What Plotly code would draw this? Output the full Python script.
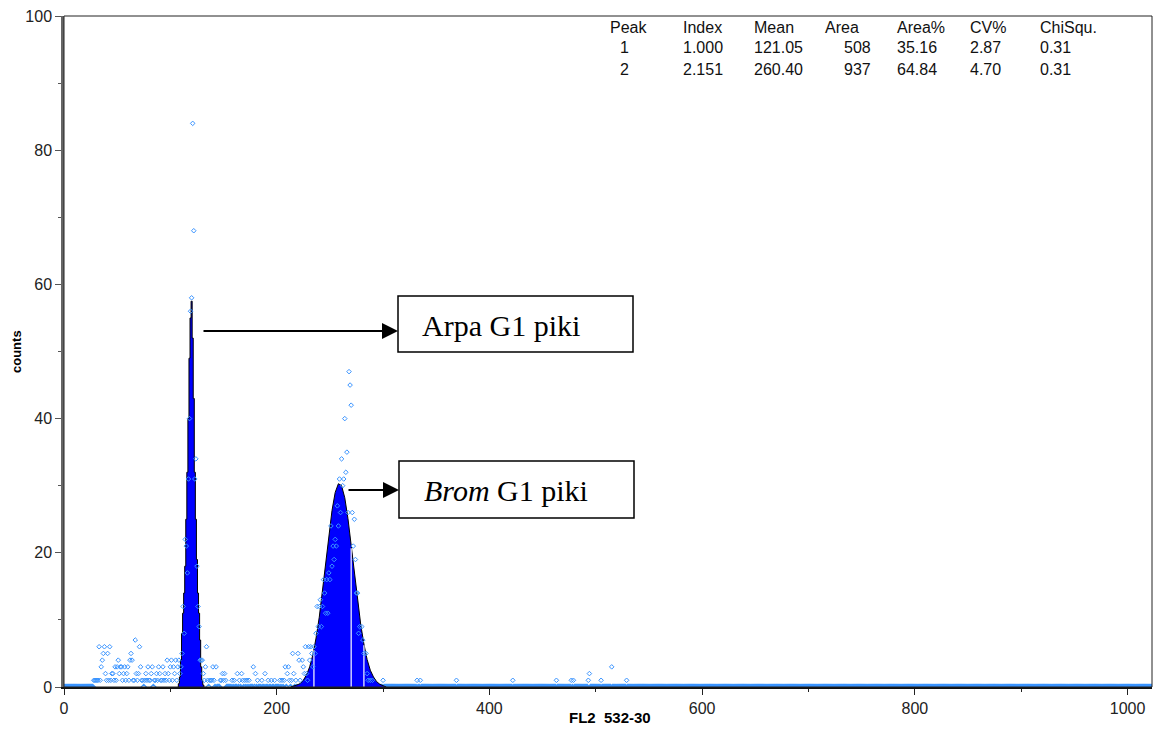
import numpy as np
import plotly.graph_objects as go

N_CHANNELS = 1024

# ---- fitted peak curves (channel -> counts) ----
fit1_ch = list(range(107, 133))
fit1_val = [0, 0.5, 1.5, 4, 8, 11, 14, 18, 25, 32, 40, 49, 55, 57.5, 52, 43, 32,
            25, 19, 14, 11, 7, 3, 1, 0.3, 0]

fit2_ch = [213, 216, 219, 222, 225, 228, 231, 234, 237, 240, 243, 246, 249, 252,
           255, 258, 261, 264, 267, 270, 273, 276, 279, 282, 285, 288, 291, 294,
           297, 300, 303]
fit2_val = [0, 0.1, 0.3, 0.5, 1.0, 1.8, 3.0, 4.8, 7.3, 10.4, 14.3, 18.4, 22.6,
            26.3, 29.0, 30.3, 30.0, 28.2, 25.1, 21.3, 17.0, 12.9, 9.3, 6.4, 4.1,
            2.5, 1.5, 0.8, 0.4, 0.2, 0]

# region markers inside peak 2
marker_ch = [235, 270, 282]

# ---- raw histogram counts (non-zero channels) ----
low_ch = [28, 29, 30, 31, 32, 33, 34, 35, 36, 37, 38, 39, 40, 41, 42, 43, 44, 45,
          46, 47, 48, 49, 50, 51, 52, 53, 54, 55, 56, 57, 58, 59, 60, 61, 62, 63,
          64, 65, 66, 67, 68, 69, 70, 71, 72, 73, 74, 76, 77, 78, 79, 80, 81, 82,
          83, 85, 86, 87, 88, 89, 90, 91, 92, 93, 94, 95, 96, 97, 98, 99, 100,
          101, 102, 103, 104, 105, 106, 107]
low_cnt = [1, 1, 1, 1, 1, 6, 1, 3, 4, 5, 6, 2, 1, 5, 1, 6, 1, 2,
           2, 1, 3, 1, 3, 4, 2, 3, 3, 1, 2, 3, 1, 2, 3, 1, 4, 5,
           4, 1, 1, 7, 2, 1, 2, 6, 3, 1, 1, 1, 2, 1, 3, 1, 1, 2,
           3, 1, 1, 2, 1, 3, 2, 1, 1, 3, 1, 2, 1, 4, 2, 1, 3,
           4, 1, 3, 2, 4, 1, 3]

p1_ch = [108, 109, 110, 111, 112, 113, 114, 115, 116, 117, 118, 119, 120, 121,
         122, 123, 124, 125, 126, 127, 128, 129, 130, 131, 132, 133, 134, 135,
         137, 138, 139, 140, 141, 143, 147, 148, 149, 150, 151, 152, 158, 160,
         163, 165, 167, 168, 170, 172, 174, 178, 180, 182, 186, 189, 192, 195,
         198]
p1_cnt = [4, 2, 3, 5, 12, 8, 22, 21, 17, 31, 40, 56, 58, 84,
          68, 31, 34, 18, 12, 9, 4, 4, 4, 2, 1, 3, 6, 1,
          1, 1, 1, 3, 1, 3, 1, 1, 2, 1, 2, 1, 1, 1,
          2, 1, 2, 1, 1, 1, 1, 3, 2, 1, 1, 2, 1, 1,
          1]

p2_ch = [203, 205, 207, 208, 210, 211, 212, 214, 215, 216, 218, 220, 221, 222,
         224, 225, 226, 227, 228, 229, 230, 231, 232, 233, 234, 235, 236, 237,
         238, 239, 240, 241, 242, 243, 244, 245, 246, 247, 248, 249, 250, 251,
         252, 253, 254, 255, 256, 257, 258, 259, 260, 261, 262, 263, 264, 265,
         266, 267, 268, 269, 270, 271, 272, 273, 274, 275, 276, 277, 278, 280,
         281, 282, 284, 285, 286, 288, 290]
p2_cnt = [1, 1, 1, 3, 2, 3, 1, 1, 5, 2, 1, 5, 4, 1,
          4, 3, 2, 6, 2, 1, 6, 4, 6, 5, 3, 6, 5, 8,
          12, 9, 12, 13, 9, 12, 16, 14, 11, 16, 11, 17, 16, 24,
          18, 21, 19, 22, 21, 27, 24, 31, 26, 34, 30, 31, 40, 32,
          35, 26, 47, 45, 42, 26, 21, 25, 19, 14, 14, 8, 9, 9,
          7, 5, 5, 2, 1, 1, 1]

high_ch = [300, 332, 335, 369, 422, 463, 477, 479, 493, 494, 505, 515, 529]
high_cnt = [1, 1, 1, 1, 1, 1, 1, 1, 1, 2, 1, 3, 1]

# ---- table text ----
table_header = ["Peak", "Index", "Mean", "Area", "Area%", "CV%", "ChiSqu."]
table_rows = [["1", "1.000", "121.05", "508", "35.16", "2.87", "0.31"],
              ["2", "2.151", "260.40", "937", "64.84", "4.70", "0.31"]]
col_px = [608, 681, 752, 823, 895, 968, 1038]

x_ticks = [0, 200, 400, 600, 800, 1000]
y_ticks = [0, 20, 40, 60, 80, 100]

# ---------------------------------------------------------------
data_ch = low_ch + p1_ch + p2_ch + high_ch
data_cnt = low_cnt + p1_cnt + p2_cnt + high_cnt
nonzero = set(data_ch)
zero_ch = [c for c in range(N_CHANNELS) if c not in nonzero]

PL, PR, PT, PB = 64, 1152, 16, 687
def px2paper_x(px):
    return (px - PL) / (PR - PL)
def py2paper_y(py):
    return (PB - py) / (PB - PT)

POINT_COLOR = "#3a94ff"
MARKER = dict(symbol="diamond-open", size=3.5, color=POINT_COLOR,
              line=dict(width=1, color=POINT_COLOR))
fig = go.Figure()

# zero-count channels (the thick baseline)
fig.add_trace(go.Scatter(x=zero_ch, y=[0] * len(zero_ch), mode="markers",
                         marker=dict(symbol="diamond-open", size=4, color=POINT_COLOR,
                                     line=dict(width=1.2, color=POINT_COLOR)),
                         hoverinfo="skip", showlegend=False))

# fitted peaks
fig.add_trace(go.Scatter(x=fit1_ch, y=fit1_val, mode="lines", line_shape="hvh",
                         fill="tozeroy", fillcolor="#0000ff",
                         line=dict(color="black", width=1), showlegend=False))
fig.add_trace(go.Scatter(x=fit2_ch, y=fit2_val, mode="lines",
                         fill="tozeroy", fillcolor="#0000ff",
                         line=dict(color="black", width=1), showlegend=False))

# white region markers inside peak 2
for c in marker_ch:
    h = float(np.interp(c, fit2_ch, fit2_val))
    fig.add_trace(go.Scatter(x=[c, c], y=[0, h * 0.97], mode="lines",
                             line=dict(color="white", width=1.2),
                             hoverinfo="skip", showlegend=False))

# raw data points
fig.add_trace(go.Scatter(x=data_ch, y=data_cnt, mode="markers", marker=MARKER,
                         showlegend=False))

annotations = []
# table
row_py = [27, 47.5, 69]
for j, (txt, cx) in enumerate(zip(table_header, col_px)):
    annotations.append(dict(x=px2paper_x(cx), y=py2paper_y(row_py[0]), xref="paper",
                            yref="paper", text=txt, showarrow=False, xanchor="left",
                            yanchor="middle", font=dict(family="Liberation Sans, Arial",
                                                        size=16, color="#111")))
for r, row in enumerate(table_rows):
    for j, (txt, cx) in enumerate(zip(row, col_px)):
        if j == 0:
            x, anchor = px2paper_x(cx + 10), "left"
        elif j == 3:
            x, anchor = px2paper_x(873), "right"
        else:
            x, anchor = px2paper_x(cx), "left"
        annotations.append(dict(x=x, y=py2paper_y(row_py[r + 1]), xref="paper",
                                yref="paper", text=txt, showarrow=False, xanchor=anchor,
                                yanchor="middle", font=dict(family="Liberation Sans, Arial",
                                                            size=16, color="#111")))

# labels in boxes
annotations.append(dict(x=px2paper_x(420), y=py2paper_y(325), xref="paper", yref="paper",
                        text="Arpa G1 piki", showarrow=False, xanchor="left", yanchor="middle",
                        font=dict(family="Liberation Serif, Times New Roman", size=30,
                                  color="black")))
annotations.append(dict(x=px2paper_x(422), y=py2paper_y(490), xref="paper", yref="paper",
                        text="<i>Brom</i> G1 piki", showarrow=False, xanchor="left",
                        yanchor="middle",
                        font=dict(family="Liberation Serif, Times New Roman", size=30,
                                  color="black")))

# arrows (head at box edge, tail at the peak)
annotations.append(dict(x=px2paper_x(398), y=py2paper_y(331), xref="paper", yref="paper",
                        ax=202 - 398, ay=0, axref="pixel", ayref="pixel",
                        text="", showarrow=True, arrowhead=2, arrowsize=1.6, arrowwidth=2,
                        arrowcolor="black", standoff=0, startstandoff=0))
annotations.append(dict(x=px2paper_x(399), y=py2paper_y(490), xref="paper", yref="paper",
                        ax=347 - 399, ay=0, axref="pixel", ayref="pixel",
                        text="", showarrow=True, arrowhead=2, arrowsize=1.6, arrowwidth=2,
                        arrowcolor="black", standoff=0, startstandoff=0))

# axis titles
annotations.append(dict(x=px2paper_x(17), y=py2paper_y(352), xref="paper", yref="paper",
                        text="<b>counts</b>", showarrow=False, textangle=-90,
                        xanchor="center", yanchor="middle",
                        font=dict(family="Liberation Sans, Arial", size=13, color="black")))
annotations.append(dict(x=px2paper_x(610), y=py2paper_y(717), xref="paper", yref="paper",
                        text="<b>FL2\u00a0 532-30</b>", showarrow=False,
                        xanchor="center", yanchor="middle",
                        font=dict(family="Liberation Sans, Arial", size=15, color="black")))

shapes = [
    # frame (top and right borders)
    dict(type="rect", xref="paper", yref="paper", x0=0, x1=1, y0=0, y1=1,
         line=dict(color="#222", width=1), layer="above"),
    # label boxes
    dict(type="rect", xref="paper", yref="paper",
         x0=px2paper_x(398), x1=px2paper_x(633), y0=py2paper_y(352), y1=py2paper_y(296),
         line=dict(color="black", width=1.5), fillcolor="white", layer="below"),
    dict(type="rect", xref="paper", yref="paper",
         x0=px2paper_x(399), x1=px2paper_x(634), y0=py2paper_y(518), y1=py2paper_y(461),
         line=dict(color="black", width=1.5), fillcolor="white", layer="below"),
]

fig.update_layout(
    width=1159, height=737,
    margin=dict(l=PL, r=1159 - PR, t=PT, b=737 - PB),
    paper_bgcolor="white", plot_bgcolor="white",
    font=dict(family="Liberation Sans, Arial", size=16, color="#222"),
    annotations=annotations, shapes=shapes,
    xaxis=dict(range=[0, 1023], tickvals=x_ticks, ticks="outside", ticklen=6,
               tickcolor="#222", showgrid=False, zeroline=False, showline=True,
               linecolor="#111", linewidth=1.5,
               minor=dict(tickvals=[100, 300, 500, 700, 900], ticks="outside",
                          ticklen=3, tickcolor="#222"),
               tickfont=dict(size=16, color="#222")),
    yaxis=dict(range=[0, 100], tickvals=y_ticks, ticks="outside", ticklen=6,
               tickcolor="#555", showgrid=False, zeroline=False, showline=True,
               linecolor="#666", linewidth=2.5,
               minor=dict(tickvals=[10, 30, 50, 70, 90], ticks="outside",
                          ticklen=3, tickcolor="#555"),
               tickfont=dict(size=16, color="#222")),
)

fig.write_html("out.html")
